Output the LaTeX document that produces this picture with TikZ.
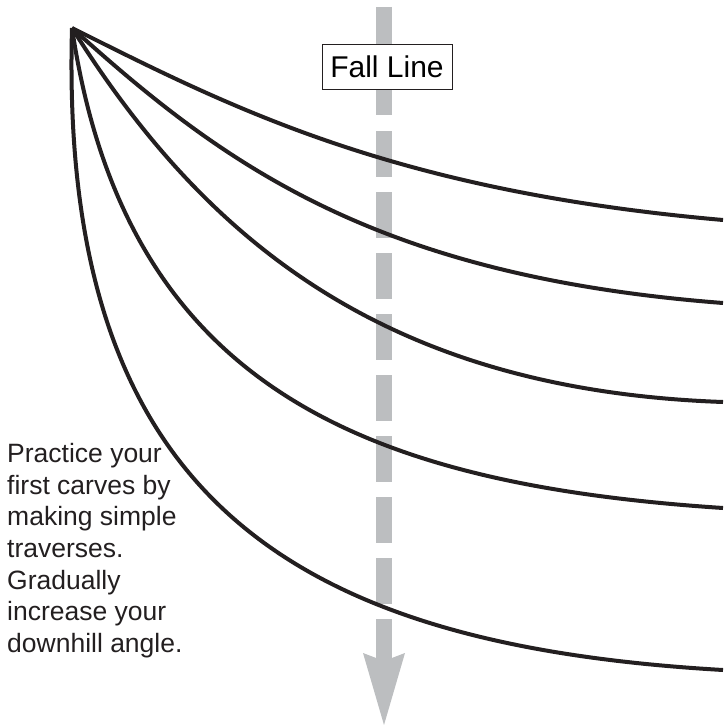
\documentclass[tikz,border=0pt]{standalone}
\usepackage{fontspec}
\setmainfont{Liberation Sans}
\definecolor{ink}{HTML}{231F20}
\definecolor{slopegray}{HTML}{BCBEC0}

\begin{document}
\begin{tikzpicture}[x=1pt,y=-1pt,
        carve/.style={ink,line width=4pt},
        fall/.style={slopegray,line width=16pt}]
        \useasboundingbox (0,0) rectangle (723,725);
        \coordinate (top) at (384,7);
        \coordinate (gap) at (384,115);
        \coordinate (dash) at (384,131);
        \coordinate (head) at (384,661);
        \coordinate (start) at (72,28);
        \draw[fall] (top) -- (gap);
        \draw[fall,dash pattern=on 46pt off 15pt] (dash) -- (head);
        \fill[slopegray] (head) -- (363,653) -- (384,725) -- (405,653) -- cycle;
        \draw[carve] (start) .. controls (232,108) and (393,191) .. (723,220);
        \draw[carve] (start) .. controls (222,163) and (373,276) .. (723,303);
        \draw[carve] (start) .. controls (205,240) and (385,390) .. (723,402);
        \draw[carve] (start) .. controls (125,385) and (360,484) .. (723,508);
        \draw[carve] (start) .. controls (59,500) and (293,645) .. (723,670);
        \node[draw=ink,fill=white,line width=0.8pt,inner sep=0pt,minimum width=130pt,minimum height=45pt,
            font=\fontsize{30}{36}\selectfont] (label) at (387,66.5) {Fall Line};
        \node[anchor=north west,align=left,inner sep=0pt,text=ink,
            font=\fontsize{26.5}{31.7}\selectfont] (advice) at (7,443) {Practice your\\first carves by\\making simple\\traverses.\\Gradually\\increase your\\downhill angle.};
    \end{tikzpicture}
\end{document}
